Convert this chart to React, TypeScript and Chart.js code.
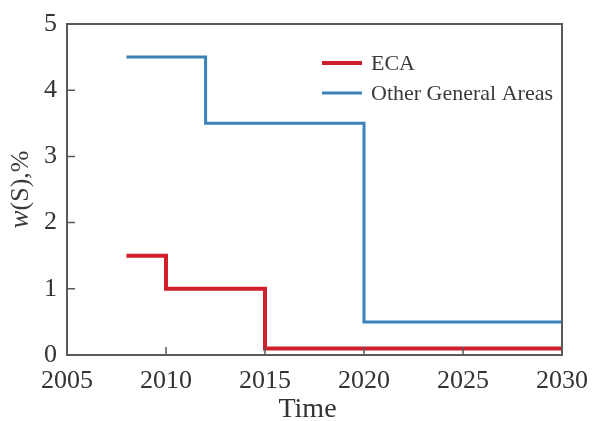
import React, { useEffect, useRef } from "react";
import { Chart, registerables } from "chart.js";

Chart.register(...registerables);

const ecaYears = [2008, 2010, 2015, 2030];
const ecaValues = [1.5, 1.0, 0.1, 0.1];
const otherYears = [2008, 2012, 2020, 2030];
const otherValues = [4.5, 3.5, 0.5, 0.5];
const seriesNames = ["ECA", "Other General Areas"];
const seriesColors = ["#cf1f2a", "#3b82b8"];
const xTicks = [2005, 2010, 2015, 2020, 2025, 2030];
const yTicks = [0, 1, 2, 3, 4, 5];
const xTitle = "Time";

const SERIF = "'Liberation Serif', 'DejaVu Serif', serif";

const decorPlugin = {
  id: "decor",
  afterDraw(chart: any) {
    const { ctx, chartArea } = chart;
    const xs = chart.scales.x;
    const ys = chart.scales.y;
    ctx.save();
    ctx.strokeStyle = "#5a5a5a";
    ctx.lineWidth = 2;
    ctx.strokeRect(chartArea.left, chartArea.top, chartArea.right - chartArea.left, chartArea.bottom - chartArea.top);
    ctx.lineWidth = 1.5;
    ctx.beginPath();
    xTicks.forEach((t) => {
      const px = xs.getPixelForValue(t);
      ctx.moveTo(px, chartArea.bottom);
      ctx.lineTo(px, chartArea.bottom - 8);
    });
    yTicks.forEach((t) => {
      const py = ys.getPixelForValue(t);
      ctx.moveTo(chartArea.left, py);
      ctx.lineTo(chartArea.left + 8, py);
    });
    ctx.stroke();

    // legend
    const lx = chartArea.left + 255;
    const ly = chartArea.top + 39;
    const gap = 30;
    ctx.font = `22px ${SERIF}`;
    ctx.textBaseline = "middle";
    ctx.fillStyle = "#3a3a3a";
    seriesNames.forEach((name, i) => {
      const y = ly + i * gap;
      ctx.strokeStyle = seriesColors[i];
      ctx.lineWidth = i === 0 ? 4 : 3;
      ctx.beginPath();
      ctx.moveTo(lx, y);
      ctx.lineTo(lx + 40, y);
      ctx.stroke();
      ctx.fillText(name, lx + 49, y + 1);
    });

    // x title
    ctx.font = `28px ${SERIF}`;
    ctx.textAlign = "center";
    ctx.textBaseline = "alphabetic";
    ctx.fillStyle = "#333";
    ctx.fillText(xTitle, (chartArea.left + chartArea.right) / 2 - 7, chartArea.bottom + 62);

    // y title with italic w
    ctx.translate(21, (chartArea.top + chartArea.bottom) / 2 + 0);
    ctx.rotate(-Math.PI / 2);
    ctx.textBaseline = "middle";
    const italic = `italic 27px ${SERIF}`;
    const normal = `26px ${SERIF}`;
    ctx.font = italic;
    const w1 = ctx.measureText("w").width;
    ctx.font = normal;
    const w2 = ctx.measureText("(S),%").width;
    const start = -(w1 + w2) / 2;
    ctx.fillStyle = "#3a3a3a";
    ctx.font = italic;
    ctx.textAlign = "left";
    ctx.fillText("w", start, 0);
    ctx.font = normal;
    ctx.fillText("(S),%", start + w1, 0);
    ctx.restore();
  },
};

export default function App() {
  const ref = useRef<HTMLCanvasElement>(null);
  useEffect(() => {
    document.body.style.margin = "0";
    const chart = new Chart(ref.current!, {
      type: "line",
      data: {
        datasets: [
          {
            label: seriesNames[0],
            data: ecaYears.map((x, i) => ({ x, y: ecaValues[i] })),
            borderColor: seriesColors[0],
            borderWidth: 4,
            stepped: "before",
            pointRadius: 0,
            fill: false,
          },
          {
            label: seriesNames[1],
            data: otherYears.map((x, i) => ({ x, y: otherValues[i] })),
            borderColor: seriesColors[1],
            borderWidth: 3,
            stepped: "before",
            pointRadius: 0,
            fill: false,
          },
        ],
      },
      options: {
        animation: false,
        responsive: false,
        maintainAspectRatio: false,
        layout: { padding: { top: 24, right: 30, left: 0, bottom: 0 } },
        plugins: { legend: { display: false }, tooltip: { enabled: false } },
        scales: {
          x: {
            type: "linear",
            min: 2005,
            max: 2030,
            afterBuildTicks: (s: any) => {
              s.ticks = xTicks.map((v) => ({ value: v }));
            },
            afterFit: (s: any) => {
              s.height = 66;
              s.paddingLeft = 0;
              s.paddingRight = 0;
            },
            grid: { display: false, drawTicks: false },
            border: { display: false },
            ticks: {
              padding: 11,
              color: "#333",
              font: { family: SERIF, size: 26 },
              maxRotation: 0,
              callback: (v: any) => String(v),
            },
            title: { display: false },
          },
          y: {
            min: 0,
            max: 5,
            afterBuildTicks: (s: any) => {
              s.ticks = yTicks.map((v) => ({ value: v }));
            },
            afterFit: (s: any) => {
              s.width = 67;
              s.paddingTop = 0;
              s.paddingBottom = 0;
            },
            grid: { display: false, drawTicks: false },
            border: { display: false },
            ticks: {
              padding: 10,
              color: "#333",
              font: { family: SERIF, size: 26 },
            },
          },
        },
      },
      plugins: [decorPlugin],
    });
    return () => chart.destroy();
  }, []);
  return (
    <div style={{ width: 592, height: 421 }}>
      <canvas ref={ref} width={592} height={421} style={{ display: "block" }} />
    </div>
  );
}
